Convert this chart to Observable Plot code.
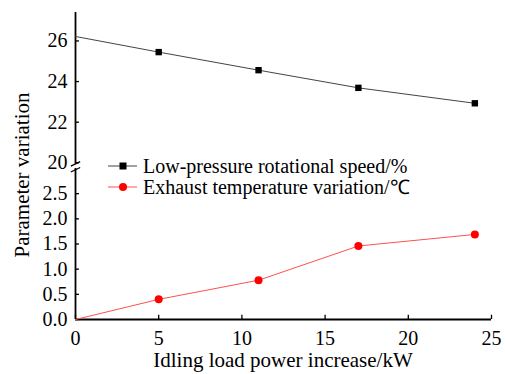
<!DOCTYPE html>
<html>
<head>
<meta charset="utf-8">
<script src="https://cdn.jsdelivr.net/npm/d3@7"></script>
<script src="https://cdn.jsdelivr.net/npm/@observablehq/plot@0.6"></script>
<style>
  html, body { margin: 0; padding: 0; background: #fff; }
  #chart { position: relative; width: 505px; height: 374px; font-family: "Liberation Serif", "Times New Roman", serif; color: #000; overflow: hidden; }
  #chart svg { position: absolute; left: 0; overflow: visible; }
  .txt { position: absolute; white-space: nowrap; font-size: 20px; line-height: 1; }
</style>
</head>
<body>
<div id="chart"></div>
<script>
// ---- data ----
const loadPower = [0, 5, 11, 17, 24];                    // kW
const speedValues = [26.22, 25.45, 24.56, 23.69, 22.93]; // Low-pressure rotational speed / %
const exhaustValues = [0, 0.40, 0.78, 1.46, 1.69];       // Exhaust temperature variation / ℃
const markerFrom = 1;                                    // markers shown from the 2nd point on
const xTicks = [0, 5, 10, 15, 20, 25];
const upperTicks = [20, 22, 24, 26];
const lowerTicks = [0, 0.5, 1.0, 1.5, 2.0, 2.5];
const seriesNames = ["Low-pressure rotational speed/%", "Exhaust temperature variation/℃"];
const xTitle = "Idling load power increase/kW";
const yTitle = "Parameter variation";

const speed = loadPower.map((x, i) => ({x, y: speedValues[i]}));
const exhaust = loadPower.map((x, i) => ({x, y: exhaustValues[i]}));

const W = 505, ML = 75, MR = 14;
const font = {fontFamily: "'Liberation Serif', 'Times New Roman', serif", fontSize: "20px", background: "transparent", overflow: "visible", color: "#000"};
const chart = document.getElementById("chart");

// ---- upper panel (20 – 27.4) ----
const upper = Plot.plot({
  width: W, height: 166, marginLeft: ML, marginRight: MR, marginTop: 12, marginBottom: 3.7,
  style: font,
  x: {domain: [0, 25], axis: null},
  y: {domain: [20, 27.4], axis: null},
  marks: [
    Plot.axisY(upperTicks, {label: null, tickSize: 0, tickPadding: 8, fontSize: 20, tickFormat: d => String(d)}),
    Plot.ruleX([0], {y1: 19.94, y2: 27.4, stroke: "#000", strokeWidth: 1.8}),
    Plot.ruleY(upperTicks, {x1: 0, x2: 0.24, stroke: "#000", strokeWidth: 1.3}),
    Plot.link([0], {x1: -0.28, x2: 0.28, y1: 19.84, y2: 20.06, stroke: "#000", strokeWidth: 1.3, clip: false}),
    Plot.line(speed, {x: "x", y: "y", stroke: "#444", strokeWidth: 1}),
    Plot.dot(speed.slice(markerFrom), {x: "x", y: "y", symbol: "square", r: 3.6, fill: "#000", stroke: "none"})
  ]
});
upper.style.top = "0px";
chart.appendChild(upper);

// ---- lower panel (0 – 3) ----
const lower = Plot.plot({
  width: W, height: 208, marginLeft: ML, marginRight: MR, marginTop: 2, marginBottom: 55,
  style: font,
  x: {domain: [0, 25], axis: null},
  y: {domain: [0, 3], axis: null},
  marks: [
    Plot.axisY(lowerTicks, {label: null, tickSize: 0, tickPadding: 8, fontSize: 20, tickFormat: d3.format(".1f")}),
    Plot.axisX(xTicks, {label: null, tickSize: 0, tickPadding: 11, fontSize: 20, tickFormat: d => String(d)}),
    Plot.ruleX([0], {y1: 0, y2: 3, stroke: "#000", strokeWidth: 1.8}),
    Plot.ruleY([0], {x1: 0, x2: 25, stroke: "#000", strokeWidth: 2.2}),
    Plot.ruleY(lowerTicks, {x1: 0, x2: 0.24, stroke: "#000", strokeWidth: 1.3}),
    Plot.ruleX(xTicks, {y1: 0, y2: 0.085, stroke: "#000", strokeWidth: 1.3}),
    Plot.link([0], {x1: -0.28, x2: 0.28, y1: 2.93, y2: 3.02, stroke: "#000", strokeWidth: 1.3, clip: false}),
    Plot.line(exhaust, {x: "x", y: "y", stroke: "#ff5050", strokeWidth: 1}),
    Plot.dot(exhaust.slice(markerFrom), {x: "x", y: "y", r: 4, fill: "#ff0000", stroke: "none"})
  ]
});
lower.style.top = "166px";
chart.appendChild(lower);

// ---- legend ----
const legendItems = [
  {name: seriesNames[0], line: "#444", fill: "#000", shape: "square", top: 166},
  {name: seriesNames[1], line: "#ff5050", fill: "#ff0000", shape: "circle", top: 187}
];
legendItems.forEach(it => {
  const sym = document.createElementNS("http://www.w3.org/2000/svg", "svg");
  sym.setAttribute("width", 32); sym.setAttribute("height", 12);
  sym.style.position = "absolute"; sym.style.left = "106px"; sym.style.top = (it.top - 6) + "px";
  const s = d3.select(sym);
  s.append("line").attr("x1", 2).attr("x2", 31).attr("y1", 6).attr("y2", 6).attr("stroke", it.line).attr("stroke-width", 1);
  if (it.shape === "square") s.append("rect").attr("x", 13.5).attr("y", 2.5).attr("width", 7).attr("height", 7).attr("fill", it.fill);
  else s.append("circle").attr("cx", 17).attr("cy", 6).attr("r", 4).attr("fill", it.fill);
  chart.appendChild(sym);
  const t = document.createElement("div");
  t.className = "txt"; t.textContent = it.name;
  t.style.left = "143px"; t.style.top = (it.top - 10) + "px";
  chart.appendChild(t);
});

// ---- axis titles ----
const xt = document.createElement("div");
xt.className = "txt"; xt.textContent = xTitle;
xt.style.fontSize = "21px"; xt.style.left = "283px"; xt.style.top = "350px"; xt.style.transform = "translateX(-50%)";
chart.appendChild(xt);

const yt = document.createElement("div");
yt.className = "txt"; yt.textContent = yTitle;
yt.style.fontSize = "21px"; yt.style.left = "22px"; yt.style.top = "175px";
yt.style.transform = "translate(-50%, -50%) rotate(-90deg)";
chart.appendChild(yt);
</script>
</body>
</html>
